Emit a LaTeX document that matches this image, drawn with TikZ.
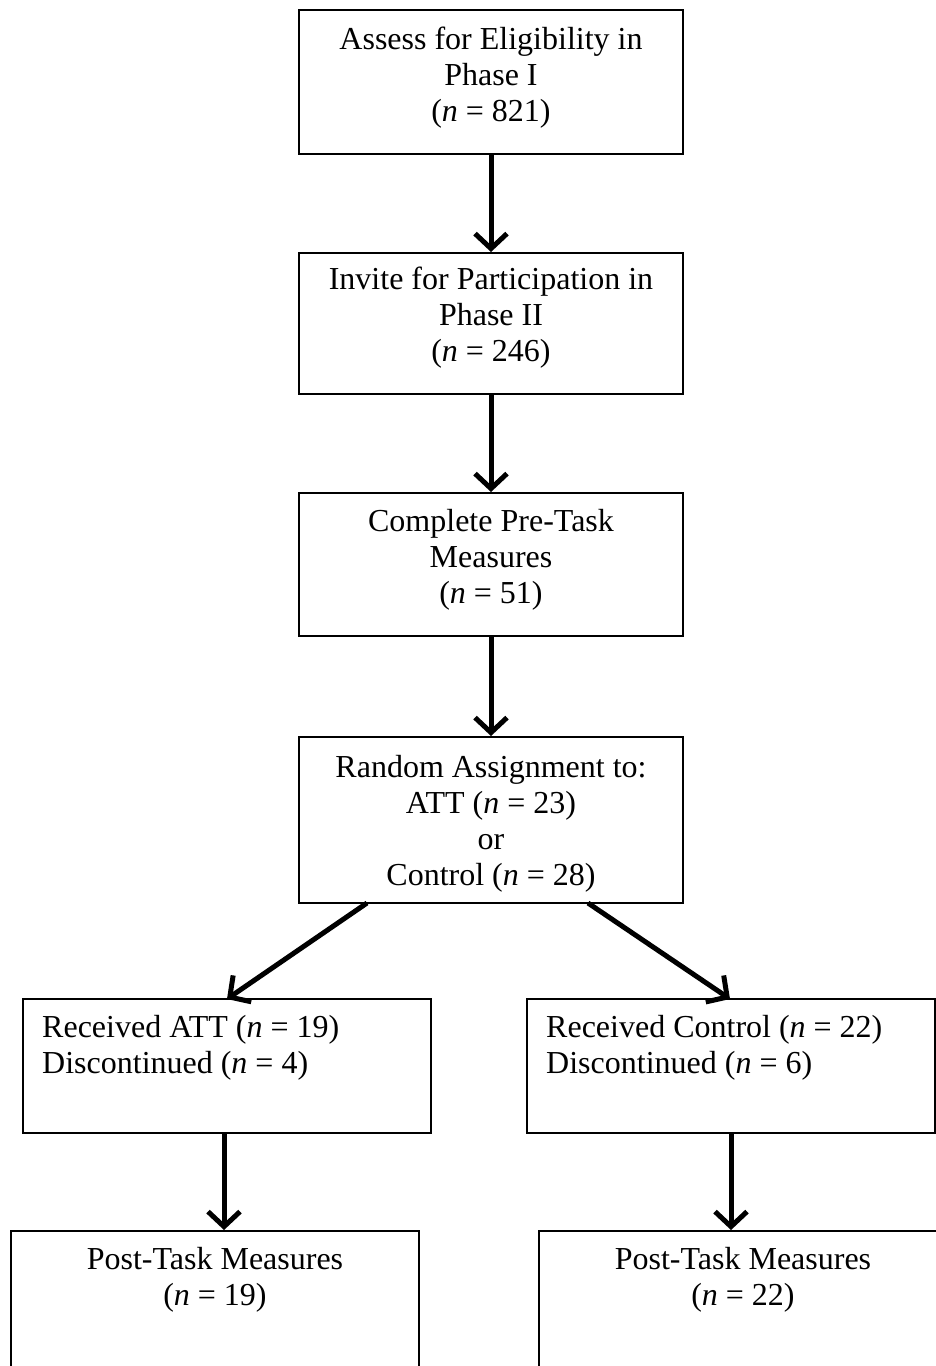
\documentclass[tikz,border=0pt]{standalone}
\usepackage{fontspec}
\setmainfont{Liberation Serif}
\usetikzlibrary{arrows.meta}
\tikzset{
  box/.style={draw=black, line width=2pt, rectangle, inner sep=0pt},
  ctext/.style={anchor=north, align=center, inner sep=0pt, font=\fontsize{32}{36}\selectfont},
  ltext/.style={anchor=north west, align=left, inner sep=0pt, font=\fontsize{32}{36}\selectfont},
  flow/.style={line width=5pt, -{Straight Barb[length=15pt, width=32pt, line width=5pt]}}
}
\newcommand{\nn}{\textit{n}}
\begin{document}
\begin{tikzpicture}[x=1pt, y=-1pt]
\useasboundingbox (0,0) rectangle (935,1366);
\node[box, minimum width=384pt, minimum height=144pt] (b1) at (491,82) {};
\node[box, minimum width=384pt, minimum height=141pt] (b2) at (491,323.5) {};
\node[box, minimum width=384pt, minimum height=143pt] (b3) at (491,564.5) {};
\node[box, minimum width=384pt, minimum height=166pt] (b4) at (491,820) {};
\node[box, minimum width=408pt, minimum height=134pt] (b5) at (227,1066) {};
\node[box, minimum width=408pt, minimum height=134pt] (b6) at (731,1066) {};
\node[box, minimum width=408pt, minimum height=200pt] (b7) at (215,1331) {};
\node[box, minimum width=408pt, minimum height=200pt] (b8) at (743,1331) {};

\node[ctext] (t1) at ([yshift=-18pt]b1.north) {Assess for Eligibility in\\Phase I\\(\nn{} = 821)};
\node[ctext] (t2) at ([yshift=-15pt]b2.north) {Invite for Participation in\\Phase II\\(\nn{} = 246)};
\node[ctext] (t3) at ([yshift=-17pt]b3.north) {Complete Pre-Task\\Measures\\(\nn{} = 51)};
\node[ctext] (t4) at ([yshift=-19pt]b4.north) {Random Assignment to:\\ATT (\nn{} = 23)\\or\\Control (\nn{} = 28)};
\node[ltext] (t5) at ([xshift=20pt, yshift=-17pt]b5.north west) {Received ATT (\nn{} = 19)\\Discontinued (\nn{} = 4)};
\node[ltext] (t6) at ([xshift=20pt, yshift=-17pt]b6.north west) {Received Control (\nn{} = 22)\\Discontinued (\nn{} = 6)};
\node[ctext] (t7) at ([yshift=-17pt]b7.north) {Post-Task Measures\\(\nn{} = 19)};
\node[ctext] (t8) at ([yshift=-17pt]b8.north) {Post-Task Measures\\(\nn{} = 22)};

\coordinate (s4l) at (367,903);
\coordinate (s4r) at (588,903);
\coordinate (e5) at (227,999);
\coordinate (e6) at (730,999);

\draw[flow] (b1.south) -- (b2.north);
\draw[flow] (b2.south) -- (b3.north);
\draw[flow] (b3.south) -- (b4.north);
\draw[flow] (s4l) -- (e5);
\draw[flow] (s4r) -- (e6);
\draw[flow] (b5.south -| 224,0) -- (b7.north -| 224,0);
\draw[flow] (b6.south -| 731,0) -- (b8.north -| 731,0);
\end{tikzpicture}
\end{document}
